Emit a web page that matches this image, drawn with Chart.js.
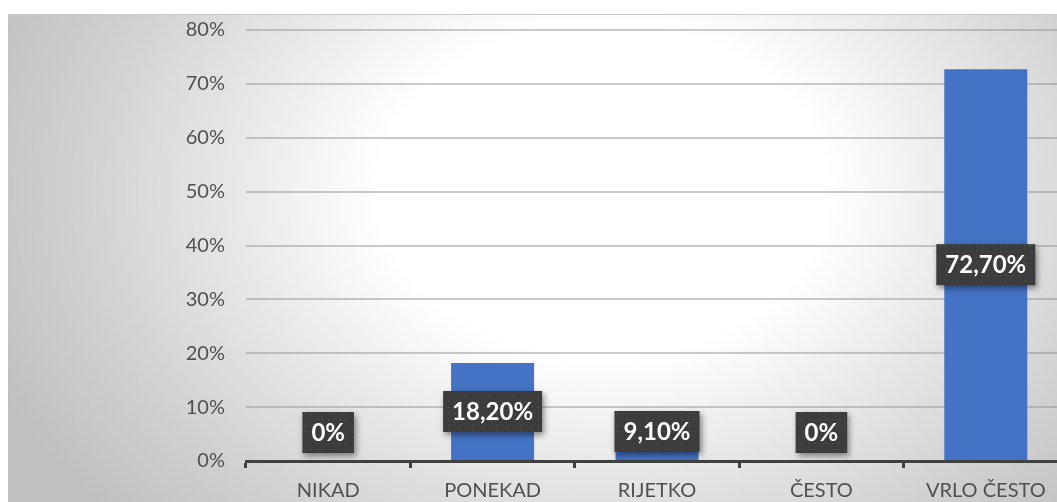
<!DOCTYPE html>
<html>
<head>
<meta charset="utf-8">
<script src="https://cdn.jsdelivr.net/npm/chart.js@4/dist/chart.umd.min.js"></script>
<style>
    html, body { margin: 0; padding: 0; background: #ffffff; overflow: hidden; }
    #frame {
        position: absolute;
        left: 8px;
        top: 14px;
        width: 1062px;
        height: 488px;
        border-top: 1px solid #c8c8c8;
        background: radial-gradient(ellipse 62% 100% at 56% 36%, #ffffff 0%, #ffffff 34%, #e6e6e6 58%, #d0d0d0 80%, #c0c0c0 100%);
    }
</style>
</head>
<body>
<div id="frame"><canvas id="chart"></canvas></div>
<script>
// Odgovori na pitanje, udio ispitanika
const categories = ['NIKAD', 'PONEKAD', 'RIJETKO', 'ČESTO', 'VRLO ČESTO'];
const shares = [0, 18.2, 9.1, 0, 72.7];
const yTicks = [0, 10, 20, 30, 40, 50, 60, 70, 80];

const formatPct = (v) => v === 0 ? '0%' : v.toFixed(2).replace('.', ',') + '%';

// tamna kutija s tockicama za oznake vrijednosti
const dotCanvas = document.createElement('canvas');
dotCanvas.width = 6;
dotCanvas.height = 6;
const dctx = dotCanvas.getContext('2d');
dctx.fillStyle = '#575757';
dctx.fillRect(2, 2, 1, 1);

const valueBoxes = {
    id: 'valueBoxes',
    afterDatasetsDraw: (chart) => {
        const ctx = chart.ctx;
        const meta = chart.getDatasetMeta(0);
        const pattern = ctx.createPattern(dotCanvas, 'repeat');
        ctx.save();
        ctx.font = 'bold 24px Lato, "Open Sans", sans-serif';
        meta.data.forEach((bar, i) => {
            const text = formatPct(shares[i]);
            const w = ctx.measureText(text).width + 18;
            const h = 41;
            let cy = (bar.y + bar.base) / 2;
            cy = Math.min(cy, bar.base - 8 - h / 2);
            const x = bar.x - w / 2;
            const y = cy - h / 2;

            ctx.shadowColor = 'rgba(0,0,0,0.45)';
            ctx.shadowBlur = 6;
            ctx.shadowOffsetX = 2;
            ctx.shadowOffsetY = 3;
            ctx.fillStyle = '#3c3c3c';
            ctx.fillRect(x, y, w, h);
            ctx.shadowColor = 'transparent';
            ctx.fillStyle = pattern;
            ctx.fillRect(x, y, w, h);

            ctx.fillStyle = '#ffffff';
            ctx.textAlign = 'center';
            ctx.textBaseline = 'middle';
            ctx.fillText(text, bar.x, cy + 1);
        });
        ctx.restore();
    }
};

Chart.defaults.font.family = 'Lato, "Open Sans", sans-serif';
Chart.defaults.color = '#505050';

new Chart(document.getElementById('chart').getContext('2d'), {
    type: 'bar',
    data: {
        labels: categories,
        datasets: [{
            data: shares,
            backgroundColor: '#4472C4',
            borderWidth: 0,
            categoryPercentage: 1,
            barPercentage: 0.505
        }]
    },
    options: {
        responsive: true,
        maintainAspectRatio: false,
        animation: false,
        layout: { padding: { top: 15, right: 2, bottom: 0, left: 0 } },
        plugins: {
            legend: { display: false },
            tooltip: { enabled: false }
        },
        scales: {
            x: {
                grid: {
                    drawOnChartArea: false,
                    drawTicks: true,
                    tickLength: 7,
                    color: '#404040',
                    lineWidth: 3
                },
                border: { color: '#404040', width: 3 },
                ticks: { font: { size: 20 }, padding: 11, maxRotation: 0 },
                afterFit: (scale) => { scale.height = 42; }
            },
            y: {
                min: 0,
                max: 80,
                afterBuildTicks: (scale) => { scale.ticks = yTicks.map(v => ({ value: v })); },
                grid: {
                    drawTicks: false,
                    color: 'rgba(140,140,140,0.45)',
                    lineWidth: 2
                },
                border: { display: false },
                ticks: {
                    font: { size: 20 },
                    padding: 21,
                    callback: (v) => v + '%'
                },
                afterFit: (scale) => {
                    scale.width = 238;
                    scale.paddingTop = 0;
                    scale.paddingBottom = 0;
                }
            }
        }
    },
    plugins: [valueBoxes]
});
</script>
</body>
</html>
